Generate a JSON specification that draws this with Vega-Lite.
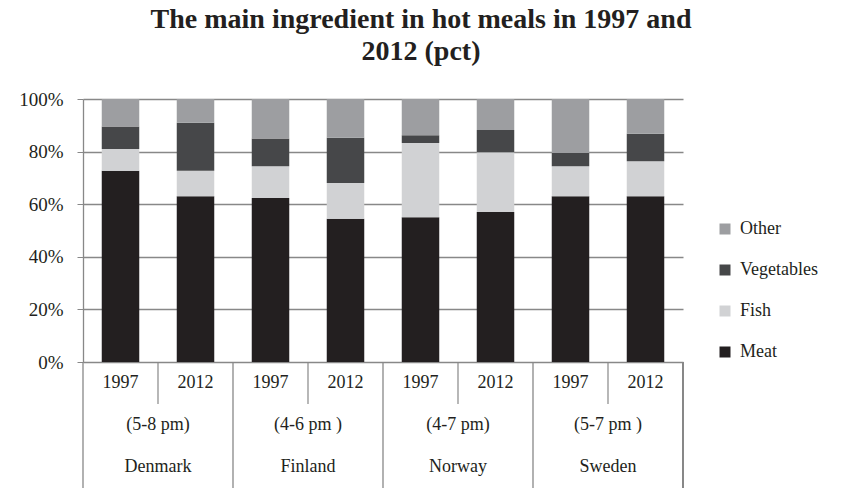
{
  "$schema": "https://vega.github.io/schema/vega-lite/v6.json",
  "padding": {"left": 18, "top": 6, "right": 5, "bottom": 2},
  "bounds": "flush",
  "background": "white",
  "config": {"font": "Liberation Serif", "view": {"stroke": null}, "concat": {"spacing": 0}},
  "title": {"text": ["The main ingredient in hot meals in 1997 and", "2012 (pct)"], "fontSize": 28, "fontWeight": "bold", "lineHeight": 32, "color": "#231f20", "anchor": "middle", "frame": "group", "offset": 24, "dx": 38},
  "data": {"values": [
    {"country": "Denmark", "range": "(5-8 pm)", "year": "1997", "ingredient": "Meat", "pct": 72.7},
    {"country": "Denmark", "range": "(5-8 pm)", "year": "1997", "ingredient": "Fish", "pct": 8.3},
    {"country": "Denmark", "range": "(5-8 pm)", "year": "1997", "ingredient": "Vegetables", "pct": 8.5},
    {"country": "Denmark", "range": "(5-8 pm)", "year": "1997", "ingredient": "Other", "pct": 10.5},
    {"country": "Denmark", "range": "(5-8 pm)", "year": "2012", "ingredient": "Meat", "pct": 63.0},
    {"country": "Denmark", "range": "(5-8 pm)", "year": "2012", "ingredient": "Fish", "pct": 9.7},
    {"country": "Denmark", "range": "(5-8 pm)", "year": "2012", "ingredient": "Vegetables", "pct": 18.3},
    {"country": "Denmark", "range": "(5-8 pm)", "year": "2012", "ingredient": "Other", "pct": 9.0},
    {"country": "Finland", "range": "(4-6 pm )", "year": "1997", "ingredient": "Meat", "pct": 62.4},
    {"country": "Finland", "range": "(4-6 pm )", "year": "1997", "ingredient": "Fish", "pct": 12.0},
    {"country": "Finland", "range": "(4-6 pm )", "year": "1997", "ingredient": "Vegetables", "pct": 10.6},
    {"country": "Finland", "range": "(4-6 pm )", "year": "1997", "ingredient": "Other", "pct": 15.0},
    {"country": "Finland", "range": "(4-6 pm )", "year": "2012", "ingredient": "Meat", "pct": 54.5},
    {"country": "Finland", "range": "(4-6 pm )", "year": "2012", "ingredient": "Fish", "pct": 13.6},
    {"country": "Finland", "range": "(4-6 pm )", "year": "2012", "ingredient": "Vegetables", "pct": 17.2},
    {"country": "Finland", "range": "(4-6 pm )", "year": "2012", "ingredient": "Other", "pct": 14.7},
    {"country": "Norway", "range": "(4-7 pm)", "year": "1997", "ingredient": "Meat", "pct": 55.0},
    {"country": "Norway", "range": "(4-7 pm)", "year": "1997", "ingredient": "Fish", "pct": 28.3},
    {"country": "Norway", "range": "(4-7 pm)", "year": "1997", "ingredient": "Vegetables", "pct": 2.9},
    {"country": "Norway", "range": "(4-7 pm)", "year": "1997", "ingredient": "Other", "pct": 13.8},
    {"country": "Norway", "range": "(4-7 pm)", "year": "2012", "ingredient": "Meat", "pct": 57.0},
    {"country": "Norway", "range": "(4-7 pm)", "year": "2012", "ingredient": "Fish", "pct": 22.8},
    {"country": "Norway", "range": "(4-7 pm)", "year": "2012", "ingredient": "Vegetables", "pct": 8.4},
    {"country": "Norway", "range": "(4-7 pm)", "year": "2012", "ingredient": "Other", "pct": 11.8},
    {"country": "Sweden", "range": "(5-7 pm )", "year": "1997", "ingredient": "Meat", "pct": 63.0},
    {"country": "Sweden", "range": "(5-7 pm )", "year": "1997", "ingredient": "Fish", "pct": 11.4},
    {"country": "Sweden", "range": "(5-7 pm )", "year": "1997", "ingredient": "Vegetables", "pct": 5.1},
    {"country": "Sweden", "range": "(5-7 pm )", "year": "1997", "ingredient": "Other", "pct": 20.5},
    {"country": "Sweden", "range": "(5-7 pm )", "year": "2012", "ingredient": "Meat", "pct": 63.0},
    {"country": "Sweden", "range": "(5-7 pm )", "year": "2012", "ingredient": "Fish", "pct": 13.3},
    {"country": "Sweden", "range": "(5-7 pm )", "year": "2012", "ingredient": "Vegetables", "pct": 10.5},
    {"country": "Sweden", "range": "(5-7 pm )", "year": "2012", "ingredient": "Other", "pct": 13.2}
  ]},
  "vconcat": [
    {
      "width": 600,
      "height": 263,
      "transform": [{"calculate": "indexof(['Meat', 'Fish', 'Vegetables', 'Other'], datum.ingredient)", "as": "stackRank"}],
      "mark": {"type": "bar"},
      "encoding": {
        "x": {"field": "country", "type": "nominal", "scale": {"paddingInner": 0, "paddingOuter": 0}, "axis": null},
        "xOffset": {"field": "year", "type": "nominal", "scale": {"paddingInner": 0.5, "paddingOuter": 0.25}},
        "y": {"field": "pct", "type": "quantitative", "stack": "normalize", "scale": {"domain": [0, 1]},
              "axis": {"format": ".0%", "values": [0, 0.2, 0.4, 0.6, 0.8, 1], "title": null, "grid": true, "gridColor": "#888888", "gridWidth": 1.3,
                       "domainColor": "#888888", "domainWidth": 1.3, "tickColor": "#888888", "tickSize": 6, "labelPadding": 14, "labelFontSize": 19, "labelColor": "#231f20"}},
        "order": {"field": "stackRank", "type": "quantitative", "sort": "ascending"},
        "color": {"field": "ingredient", "type": "nominal",
                  "scale": {"domain": ["Other", "Vegetables", "Fish", "Meat"], "range": ["#9d9ea1", "#464749", "#d1d2d4", "#231f20"]},
                  "legend": {"orient": "none", "legendX": 633, "legendY": 121, "title": null, "symbolType": "square", "symbolSize": 121,
                             "symbolStrokeWidth": 0, "symbolOpacity": 1, "labelFontSize": 18, "labelColor": "#231f20", "rowPadding": 23, "labelOffset": 6}}
      }
    },
    {
      "width": 600,
      "height": 126,
      "transform": [{"filter": "datum.ingredient === 'Meat'"}],
      "encoding": {
        "x": {"field": "country", "type": "nominal", "scale": {"paddingInner": 0, "paddingOuter": 0}, "axis": null}
      },
      "layer": [
        {
          "mark": {"type": "text", "fontSize": 18, "color": "#231f20"},
          "encoding": {
            "xOffset": {"field": "year", "type": "nominal", "scale": {"paddingInner": 0, "paddingOuter": 0}},
            "y": {"datum": "year", "type": "nominal", "scale": {"domain": ["year", "range", "country"]}, "axis": null},
            "text": {"field": "year"}
          }
        },
        {
          "transform": [{"filter": "datum.year === '1997'"}],
          "mark": {"type": "text", "fontSize": 18, "color": "#231f20"},
          "encoding": {
            "y": {"datum": "range", "type": "nominal"},
            "text": {"field": "range"}
          }
        },
        {
          "transform": [{"filter": "datum.year === '1997'"}],
          "mark": {"type": "text", "fontSize": 18, "color": "#231f20"},
          "encoding": {
            "y": {"datum": "country", "type": "nominal"},
            "text": {"field": "country"}
          }
        },
        {
          "transform": [{"filter": "datum.year === '1997'"}],
          "mark": {"type": "tick", "orient": "vertical", "size": 42, "thickness": 1.2, "color": "#888888", "opacity": 1},
          "encoding": {
            "x": {"field": "country", "type": "nominal", "bandPosition": 0.5},
            "y": {"datum": "year", "type": "nominal"}
          }
        },
        {
          "transform": [{"filter": "datum.year === '1997'"}],
          "mark": {"type": "rule", "color": "#888888", "strokeWidth": 1.3},
          "encoding": {
            "x": {"field": "country", "type": "nominal", "bandPosition": 0}
          }
        },
        {
          "mark": {"type": "rule", "color": "#888888", "strokeWidth": 1.3},
          "encoding": {
            "x": {"datum": "Sweden", "type": "nominal", "bandPosition": 1}
          }
        }
      ]
    }
  ]
}
